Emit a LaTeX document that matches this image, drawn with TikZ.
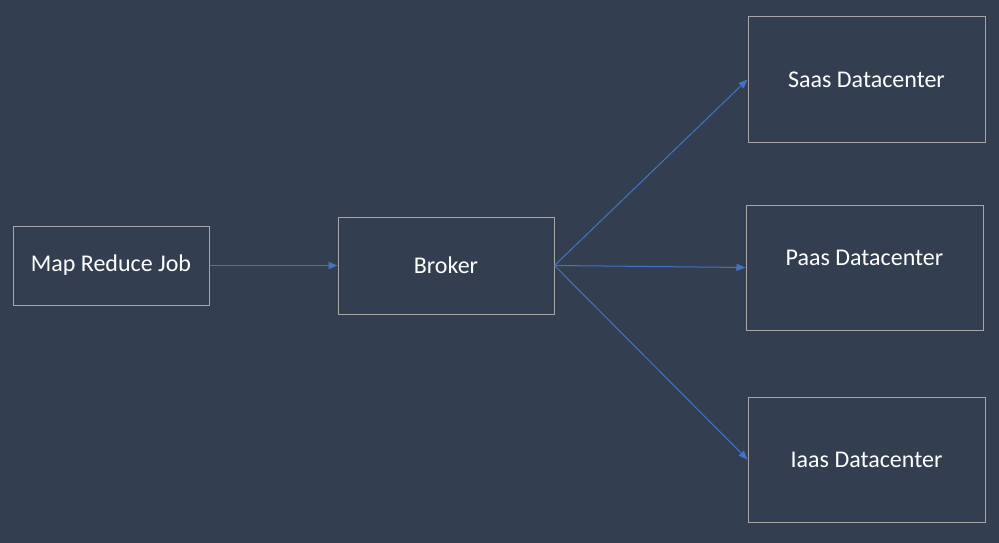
\documentclass[tikz,border=0pt]{standalone}
\usepackage{fontspec}
\setmainfont{Carlito}
\usetikzlibrary{arrows.meta}

\definecolor{slate}{HTML}{333F50}
\definecolor{boxline}{HTML}{A6A6A6}
\definecolor{arrowblue}{HTML}{4472C4}

\tikzset{
  block/.style={draw=boxline, line width=1pt, text=white, inner sep=0pt,
    font=\fontsize{24}{28}\selectfont},
  link/.style={draw=arrowblue, line width=1pt, -{Triangle[length=9pt,width=7pt]}}
}

\begin{document}
\begin{tikzpicture}[x=1pt,y=-1pt]
  \fill[slate] (0,0) rectangle (999,543);
  \useasboundingbox (0,0) rectangle (999,543);

  \node[block, minimum width=196pt, minimum height=79pt] (job) at (111,265.5) {Map Reduce Job};
  \node[block, minimum width=216pt, minimum height=97pt] (broker) at (446,265.5) {Broker};
  \node[block, minimum width=237pt, minimum height=125pt] (saas) at (866.5,79.5) {Saas Datacenter};
  % text sits a little high in this box
  \node[block, minimum width=237pt, minimum height=125pt, text depth=20pt] (paas) at (864.5,267.5) {Paas Datacenter};
  \node[block, minimum width=237pt, minimum height=125pt] (iaas) at (866.5,459.5) {Iaas Datacenter};

  \draw[link] (job) -- (broker);
  \foreach \dc in {saas,paas,iaas} {
    \draw[link] (broker.east) -- (\dc.west);
  }
\end{tikzpicture}
\end{document}
